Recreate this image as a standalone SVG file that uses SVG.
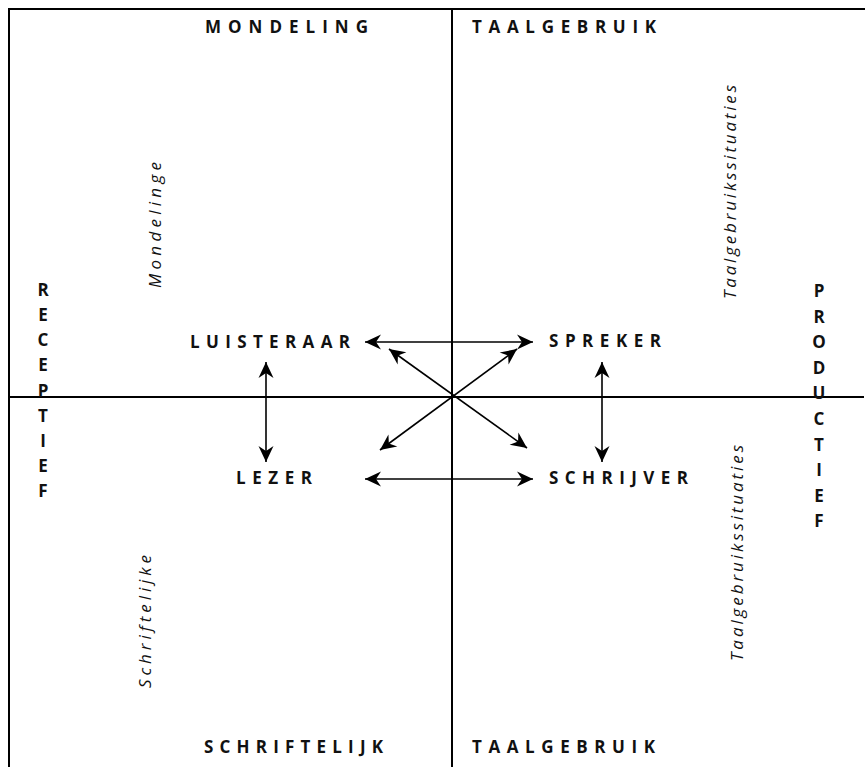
<svg xmlns="http://www.w3.org/2000/svg" width="865" height="767" viewBox="0 0 865 767">
<style>
.ax{stroke:#000;stroke-width:2;fill:none}
.ar{stroke:#000;stroke-width:1.6;fill:none;marker-start:url(#ah);marker-end:url(#ah)}
.cap{font-family:"Open Sans","Liberation Sans",sans-serif;font-weight:700;font-size:17px;fill:#111}
.it{font-family:"Open Sans","Liberation Sans",sans-serif;font-style:italic;font-size:17px;fill:#111}
.vl{font-family:"Open Sans","Liberation Sans",sans-serif;font-weight:700;font-size:17px;fill:#111;text-anchor:middle}
</style>
<defs>
<marker id="ah" viewBox="-17 -9 19 18" refX="0" refY="0" markerWidth="19" markerHeight="18" markerUnits="userSpaceOnUse" orient="auto-start-reverse">
<path d="M0,0 L-16,-7.5 L-11,0 L-16,7.5 Z" fill="#000"/>
</marker>
</defs>
<rect width="865" height="767" fill="#fff"/>
<g id="axes">
<line class="ax" x1="8" y1="9" x2="865" y2="9"/>
<line class="ax" x1="9" y1="8" x2="9" y2="767"/>
<line class="ax" x1="452" y1="9" x2="452" y2="767"/>
<line class="ax" x1="9" y1="397" x2="864" y2="397"/>
</g>
<g id="headers">
<text class="cap" x="205" y="33" textLength="163" lengthAdjust="spacing">MONDELING</text>
<text class="cap" x="472" y="33" textLength="184" lengthAdjust="spacing">TAALGEBRUIK</text>
<text class="cap" x="204" y="753" textLength="179" lengthAdjust="spacing">SCHRIFTELIJK</text>
<text class="cap" x="472" y="753" textLength="183" lengthAdjust="spacing">TAALGEBRUIK</text>
</g>
<g id="receptief">
<text class="vl"><tspan x="43" y="296">R</tspan><tspan x="43" y="321">E</tspan><tspan x="43" y="346">C</tspan><tspan x="43" y="371">E</tspan><tspan x="43" y="397">P</tspan><tspan x="43" y="422">T</tspan><tspan x="43" y="447">I</tspan><tspan x="43" y="472">E</tspan><tspan x="43" y="497">F</tspan></text>
</g>
<g id="productief">
<text class="vl"><tspan x="819" y="297">P</tspan><tspan x="819" y="323">R</tspan><tspan x="819" y="348">O</tspan><tspan x="819" y="374">D</tspan><tspan x="819" y="399">U</tspan><tspan x="819" y="425">C</tspan><tspan x="819" y="451">T</tspan><tspan x="819" y="476">I</tspan><tspan x="819" y="502">E</tspan><tspan x="819" y="527">F</tspan></text>
</g>
<g id="side-labels">
<text class="it" transform="translate(161,288) rotate(-90)" textLength="126" lengthAdjust="spacing">Mondelinge</text>
<text class="it" transform="translate(151,688) rotate(-90)" textLength="133" lengthAdjust="spacing">Schriftelijke</text>
<text class="it" transform="translate(736,299) rotate(-90)" textLength="214" lengthAdjust="spacing">Taalgebruikssituaties</text>
<text class="it" transform="translate(743,661) rotate(-90)" textLength="216" lengthAdjust="spacing">Taalgebruikssituaties</text>
</g>
<g id="luisteraar"><text class="cap" x="190" y="348" textLength="160" lengthAdjust="spacing">LUISTERAAR</text></g>
<g id="spreker"><text class="cap" x="549" y="347" textLength="112" lengthAdjust="spacing">SPREKER</text></g>
<g id="lezer"><text class="cap" x="236" y="484" textLength="76" lengthAdjust="spacing">LEZER</text></g>
<g id="schrijver"><text class="cap" x="549" y="484" textLength="139" lengthAdjust="spacing">SCHRIJVER</text></g>
<g id="connectors">
<line class="ar" x1="365" y1="342" x2="533" y2="342"/>
<line class="ar" x1="365" y1="479" x2="533" y2="479"/>
<line class="ar" x1="266" y1="362" x2="266" y2="462"/>
<line class="ar" x1="602" y1="362" x2="602" y2="462"/>
<line class="ar" x1="389" y1="349" x2="527" y2="448"/>
<line class="ar" x1="517" y1="349" x2="380" y2="450"/>
</g>
</svg>
